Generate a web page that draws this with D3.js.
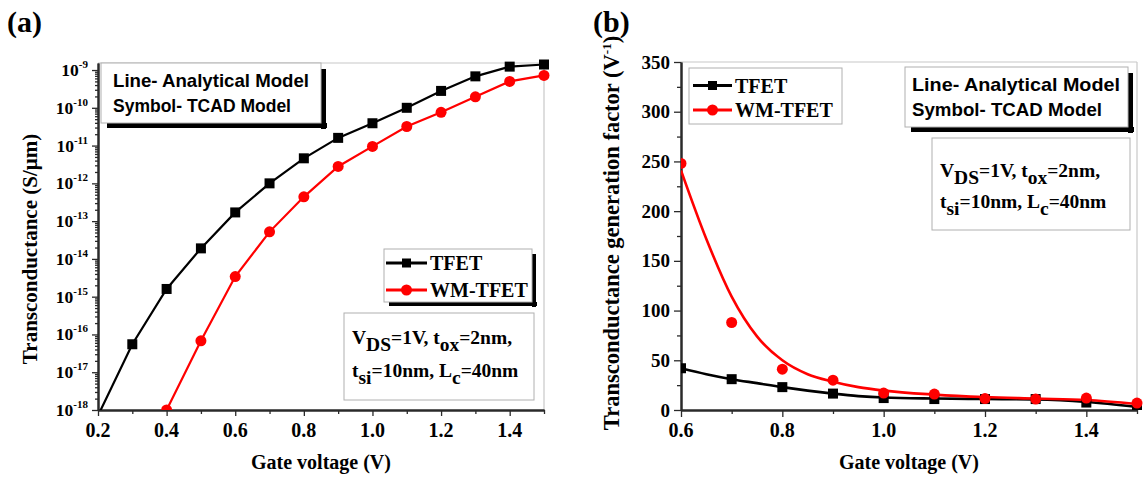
<!DOCTYPE html>
<html>
<head>
<meta charset="utf-8">
<script src="https://cdn.jsdelivr.net/npm/d3@7"></script>
<style>
  html, body { margin: 0; padding: 0; background: #fff; }
  svg { display: block; }
  .serif { font-family: "Liberation Serif", "Times New Roman", serif; font-weight: bold; }
  .sans { font-family: "Liberation Sans", Arial, sans-serif; font-weight: bold; }
</style>
</head>
<body>
<svg id="chart" width="1145" height="477"></svg>
<script>
// ---------------- Data ----------------
// Panel (a): transconductance (S/um) vs gate voltage
const vgA = [0.2, 0.3, 0.4, 0.5, 0.6, 0.7, 0.8, 0.9, 1.0, 1.1, 1.2, 1.3, 1.4, 1.5];
const gmTfet = [7.1e-19, 5.5e-17, 1.6e-15, 1.9e-14, 1.7e-13, 1.0e-12, 4.6e-12, 1.6e-11, 3.9e-11, 1.0e-10, 2.8e-10, 6.8e-10, 1.23e-9, 1.4e-9];
const vgAWm = [0.4, 0.5, 0.6, 0.7, 0.8, 0.9, 1.0, 1.1, 1.2, 1.3, 1.4, 1.5];
const gmWm = [1.0e-18, 6.8e-17, 3.4e-15, 5.2e-14, 4.4e-13, 2.8e-12, 9.5e-12, 3.2e-11, 7.6e-11, 1.95e-10, 5.0e-10, 7.2e-10];
const xTicksA = [0.2, 0.4, 0.6, 0.8, 1.0, 1.2, 1.4];
const yExpTicksA = [-18, -17, -16, -15, -14, -13, -12, -11, -10, -9];

// Panel (b): transconductance generation factor (1/V) vs gate voltage
const vgB = [0.6, 0.7, 0.8, 0.9, 1.0, 1.1, 1.2, 1.3, 1.4, 1.5];
const gfTfetTcad = [42, 31, 23, 16.5, 12, 11, 11, 11, 7.5, 4];
const gfWmTcad = [248, 88, 41, 30, 17, 16, 11.5, 11, 12, 7];
const vgBLine = [0.6, 0.65, 0.7, 0.75, 0.8, 0.85, 0.9, 0.95, 1.0, 1.1, 1.2, 1.3, 1.4, 1.5];
const gfTfetLine = [42, 36, 31, 27, 23, 19.5, 16.5, 14, 12.5, 11.5, 11, 10.5, 8, 3];
const gfWmLine = [241, 172, 114, 74, 50, 36, 28.5, 23, 19.5, 15.5, 13, 11.5, 10, 6];
const xTicksB = [0.6, 0.8, 1.0, 1.2, 1.4];
const yTicksB = [0, 50, 100, 150, 200, 250, 300, 350];

const seriesNames = ["TFET", "WM-TFET"];
const modelNotes = ["Line- Analytical Model", "Symbol- TCAD Model"];

// ---------------- Setup ----------------
const svg = d3.select("#chart");
const BLACK = "#000", RED = "#ff0000";
const AXIS = "#2a2a2a", FRAME = "#c8c8c8";

function frame(g, L, R, T, B) {
  g.append("line").attr("x1", L).attr("x2", R).attr("y1", T).attr("y2", T).attr("stroke", FRAME).attr("stroke-width", 1.2);
  g.append("line").attr("x1", R).attr("x2", R).attr("y1", T).attr("y2", B).attr("stroke", FRAME).attr("stroke-width", 1.2);
}
function styleAxis(sel) {
  sel.select(".domain").attr("stroke", AXIS).attr("stroke-width", 2);
  sel.selectAll(".tick line").attr("stroke", AXIS).attr("stroke-width", 1.3);
  sel.selectAll(".tick text").remove();
}
function squareMarks(g, data, x, y, size, color) {
  g.selectAll(null).data(data).enter().append("rect")
    .attr("x", d => x(d[0]) - size / 2).attr("y", d => y(d[1]) - size / 2)
    .attr("width", size).attr("height", size).attr("fill", color);
}
function circleMarks(g, data, x, y, r, color) {
  g.selectAll(null).data(data).enter().append("circle")
    .attr("cx", d => x(d[0])).attr("cy", d => y(d[1])).attr("r", r).attr("fill", color);
}
function shadowBox(g, x0, y0, x1, y1, off, shadow) {
  if (shadow) {
    g.append("rect").attr("x", x1).attr("y", y0 + off + 1).attr("width", off).attr("height", y1 - y0).attr("fill", "#000");
    g.append("rect").attr("x", x0 + off + 1).attr("y", y1).attr("width", x1 - x0).attr("height", off).attr("fill", "#000");
  }
  g.append("rect").attr("x", x0).attr("y", y0).attr("width", x1 - x0).attr("height", y1 - y0)
    .attr("fill", "#fff").attr("stroke", "#b0b0b0").attr("stroke-width", 1);
}
function legend(g, x0, rows, lineX0, lineX1, textX, fontSize) {
  rows.forEach((r, i) => {
    g.append("line").attr("x1", lineX0).attr("x2", lineX1).attr("y1", r.y).attr("y2", r.y)
      .attr("stroke", r.color).attr("stroke-width", 3);
    const mx = (lineX0 + lineX1) / 2;
    if (r.shape === "square") {
      g.append("rect").attr("x", mx - 4.5).attr("y", r.y - 4.5).attr("width", 9).attr("height", 9).attr("fill", r.color);
    } else {
      g.append("circle").attr("cx", mx).attr("cy", r.y).attr("r", 5.5).attr("fill", r.color);
    }
    g.append("text").attr("class", "serif").attr("x", textX).attr("y", r.y + 7)
      .attr("font-size", fontSize).attr("fill", "#000").text(r.name);
  });
}
function paramsText(g, x, y1, y2, fs) {
  const t1 = g.append("text").attr("class", "serif").attr("x", x).attr("y", y1).attr("font-size", fs);
  t1.append("tspan").text("V");
  t1.append("tspan").attr("dy", 7).text("DS");
  t1.append("tspan").attr("dy", -7).text("=1V, t");
  t1.append("tspan").attr("dy", 7).text("ox");
  t1.append("tspan").attr("dy", -7).text("=2nm,");
  const t2 = g.append("text").attr("class", "serif").attr("x", x).attr("y", y2).attr("font-size", fs);
  t2.append("tspan").text("t");
  t2.append("tspan").attr("dy", 7).text("si");
  t2.append("tspan").attr("dy", -7).text("=10nm, L");
  t2.append("tspan").attr("dy", 7).text("c");
  t2.append("tspan").attr("dy", -7).text("=40nm");
}

// ---------------- Panel (a) ----------------
(function () {
  const L = 98, R = 544, T = 63, B = 410;
  const g = svg.append("g");
  const x = d3.scaleLinear().domain([0.2, 1.5]).range([L, R]);
  const y = d3.scaleLog().domain([1e-18, Math.pow(10, -8.814)]).range([B, T]);

  frame(g, L, R, T, B);

  g.append("defs").append("clipPath").attr("id", "clipA")
    .append("rect").attr("x", L).attr("y", T - 6).attr("width", R - L + 6).attr("height", B - T + 6);

  // minor ticks
  const minorY = [];
  for (let e = -18; e < -8; e++) for (let k = 2; k <= 9; k++) { const v = k * Math.pow(10, e); if (v < y.domain()[1]) minorY.push(v); }
  const minorX = d3.range(0.3, 1.55, 0.2).map(v => +v.toFixed(2));
  g.append("g").attr("transform", `translate(${L},0)`).call(d3.axisLeft(y).tickValues(minorY).tickSize(3).tickSizeOuter(0)).call(styleAxis);
  g.append("g").attr("transform", `translate(0,${B})`).call(d3.axisBottom(x).tickValues(minorX).tickSize(4).tickSizeOuter(0)).call(styleAxis);
  // major ticks
  g.append("g").attr("transform", `translate(${L},0)`).call(d3.axisLeft(y).tickValues(yExpTicksA.map(e => Math.pow(10, e))).tickSize(6).tickSizeOuter(0)).call(styleAxis);
  g.append("g").attr("transform", `translate(0,${B})`).call(d3.axisBottom(x).tickValues(xTicksA).tickSize(6).tickSizeOuter(0)).call(styleAxis);

  // y tick labels 10^e
  yExpTicksA.forEach(e => {
    const t = g.append("text").attr("class", "serif").attr("text-anchor", "end")
      .attr("x", 88).attr("y", y(Math.pow(10, e)) + 6).attr("font-size", 17.5);
    t.append("tspan").text("10");
    t.append("tspan").attr("dy", -8).attr("font-size", 11).text(String(e));
  });
  // x tick labels
  xTicksA.forEach(v => {
    g.append("text").attr("class", "serif").attr("text-anchor", "middle")
      .attr("x", x(v)).attr("y", 437).attr("font-size", 20).text(v.toFixed(1));
  });

  // data
  const cg = g.append("g").attr("clip-path", "url(#clipA)");
  const line = d3.line().x(d => x(d[0])).y(d => y(d[1]));
  const tf = vgA.map((v, i) => [v, gmTfet[i]]);
  const wm = vgAWm.map((v, i) => [v, gmWm[i]]);
  cg.append("path").datum(tf).attr("d", line).attr("fill", "none").attr("stroke", BLACK).attr("stroke-width", 2.2);
  cg.append("path").datum(wm).attr("d", line).attr("fill", "none").attr("stroke", RED).attr("stroke-width", 2.2);
  squareMarks(cg, tf, x, y, 10, BLACK);
  circleMarks(cg, wm, x, y, 5.5, RED);

  // model note box
  const nb = g.append("g");
  shadowBox(nb, 101, 63, 321, 123, 5, true);
  nb.append("text").attr("class", "sans").attr("x", 113).attr("y", 87).attr("font-size", 18.5)
    .attr("textLength", 196).attr("lengthAdjust", "spacingAndGlyphs").text(modelNotes[0]);
  nb.append("text").attr("class", "sans").attr("x", 113).attr("y", 112).attr("font-size", 18.5)
    .attr("textLength", 178).attr("lengthAdjust", "spacingAndGlyphs").text(modelNotes[1]);

  // legend
  const lg = g.append("g");
  shadowBox(lg, 384, 249, 532, 302, 4, true);
  legend(lg, 384, [
    { y: 263, color: BLACK, shape: "square", name: seriesNames[0] },
    { y: 290, color: RED, shape: "circle", name: seriesNames[1] }
  ], 386, 427, 430, 20);

  // params box
  const pb = g.append("g");
  shadowBox(pb, 344, 313, 534, 400, 0, false);
  paramsText(pb, 352, 344, 377, 19.5);

  // titles
  g.append("text").attr("class", "serif").attr("text-anchor", "middle")
    .attr("x", 321).attr("y", 469).attr("font-size", 20).text("Gate voltage (V)");
  g.append("text").attr("class", "serif").attr("text-anchor", "middle")
    .attr("transform", "translate(37,249) rotate(-90)").attr("font-size", 21).text("Transconductance (S/\u03BCm)");
  g.append("text").attr("class", "serif").attr("x", 7).attr("y", 32).attr("font-size", 30).text("(a)");
})();

// ---------------- Panel (b) ----------------
(function () {
  const L = 681, R = 1137, T = 62, B = 410;
  const g = svg.append("g");
  const x = d3.scaleLinear().domain([0.6, 1.5]).range([L, R]);
  const y = d3.scaleLinear().domain([0, 350]).range([B, T]);

  frame(g, L, R, T, B);
  g.append("defs").append("clipPath").attr("id", "clipB")
    .append("rect").attr("x", L).attr("y", T - 6).attr("width", R - L + 8).attr("height", B - T + 6);

  const minorY = d3.range(25, 350, 50);
  const minorX = [0.7, 0.9, 1.1, 1.3, 1.5];
  g.append("g").attr("transform", `translate(${L},0)`).call(d3.axisLeft(y).tickValues(minorY).tickSize(4).tickSizeOuter(0)).call(styleAxis);
  g.append("g").attr("transform", `translate(0,${B})`).call(d3.axisBottom(x).tickValues(minorX).tickSize(4).tickSizeOuter(0)).call(styleAxis);
  g.append("g").attr("transform", `translate(${L},0)`).call(d3.axisLeft(y).tickValues(yTicksB).tickSize(7).tickSizeOuter(0)).call(styleAxis);
  g.append("g").attr("transform", `translate(0,${B})`).call(d3.axisBottom(x).tickValues(xTicksB).tickSize(7).tickSizeOuter(0)).call(styleAxis);

  yTicksB.forEach(v => {
    g.append("text").attr("class", "serif").attr("text-anchor", "end")
      .attr("x", 670).attr("y", y(v) + 6.5).attr("font-size", 19).text(String(v));
  });
  xTicksB.forEach(v => {
    g.append("text").attr("class", "serif").attr("text-anchor", "middle")
      .attr("x", x(v)).attr("y", 437).attr("font-size", 20).text(v.toFixed(1));
  });

  const cg = g.append("g").attr("clip-path", "url(#clipB)");
  const line = d3.line().curve(d3.curveMonotoneX).x(d => x(d[0])).y(d => y(d[1]));
  cg.append("path").datum(vgBLine.map((v, i) => [v, gfTfetLine[i]])).attr("d", line)
    .attr("fill", "none").attr("stroke", BLACK).attr("stroke-width", 2.6);
  cg.append("path").datum(vgBLine.map((v, i) => [v, gfWmLine[i]])).attr("d", line)
    .attr("fill", "none").attr("stroke", RED).attr("stroke-width", 2.6);
  squareMarks(cg, vgB.map((v, i) => [v, gfTfetTcad[i]]), x, y, 10, BLACK);
  circleMarks(cg, vgB.map((v, i) => [v, gfWmTcad[i]]), x, y, 5.5, RED);

  // legend
  const lg = g.append("g");
  shadowBox(lg, 689, 68, 842, 124, 0, false);
  legend(lg, 689, [
    { y: 85.5, color: BLACK, shape: "square", name: seriesNames[0] },
    { y: 110, color: RED, shape: "circle", name: seriesNames[1] }
  ], 693, 732, 735, 20);

  // model note box
  const nb = g.append("g");
  shadowBox(nb, 905, 67, 1128, 127, 5, true);
  nb.append("text").attr("class", "sans").attr("x", 912).attr("y", 91).attr("font-size", 18.5)
    .attr("textLength", 208).attr("lengthAdjust", "spacingAndGlyphs").text(modelNotes[0]);
  nb.append("text").attr("class", "sans").attr("x", 912).attr("y", 116).attr("font-size", 18.5)
    .attr("textLength", 190).attr("lengthAdjust", "spacingAndGlyphs").text(modelNotes[1]);

  // params box
  const pb = g.append("g");
  shadowBox(pb, 932, 138, 1130, 230, 0, false);
  paramsText(pb, 940, 177, 208, 19.5);

  g.append("text").attr("class", "serif").attr("text-anchor", "middle")
    .attr("x", 909).attr("y", 469).attr("font-size", 20).text("Gate voltage (V)");
  const yt = g.append("text").attr("class", "serif").attr("text-anchor", "middle")
    .attr("transform", "translate(619,233) rotate(-90)").attr("font-size", 22.5);
  yt.append("tspan").text("Transconductance generation factor (V");
  yt.append("tspan").attr("dy", -8).attr("font-size", 13).text("-1");
  yt.append("tspan").attr("dy", 8).text(")");
  g.append("text").attr("class", "serif").attr("x", 593).attr("y", 32).attr("font-size", 30).text("(b)");
})();
</script>
</body>
</html>
